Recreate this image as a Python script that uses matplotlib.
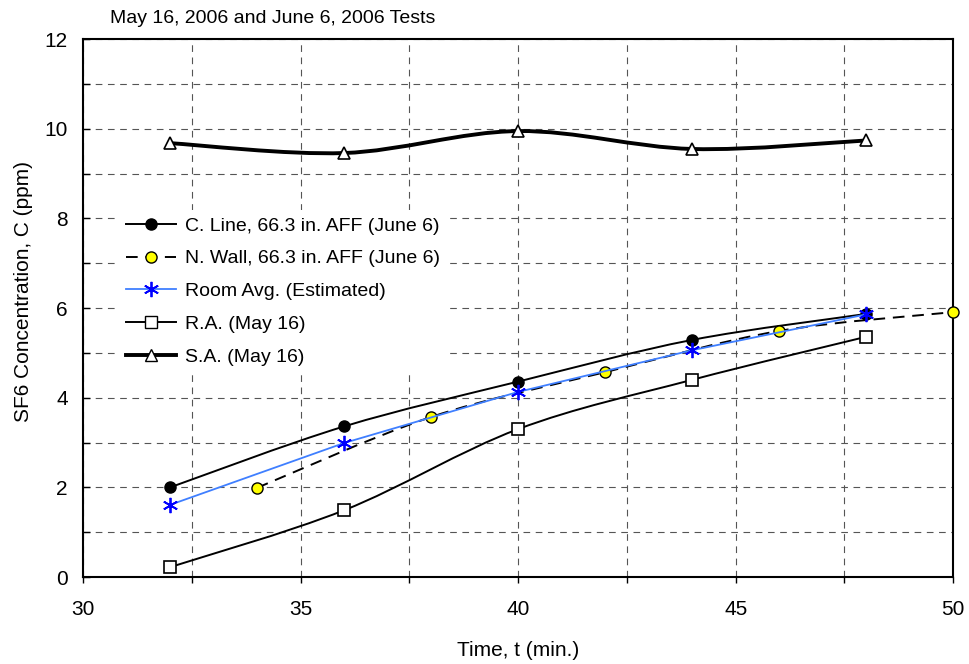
import matplotlib

matplotlib.use("Agg")
import matplotlib.pyplot as plt
from matplotlib.path import Path
from matplotlib.patches import PathPatch

plt.rcParams["font.family"] = ["Liberation Sans", "DejaVu Sans"]

# values
t_cline = [32, 36, 40, 44, 48]
c_cline = [2.0, 3.36, 4.36, 5.29, 5.87]

t_nwall = [34, 38, 42, 46, 50]
c_nwall = [1.99, 3.57, 4.57, 5.49, 5.91]

t_avg = [32, 36, 40, 44, 48]
c_avg = [1.61, 2.99, 4.13, 5.06, 5.86]

t_ra = [32, 36, 40, 44, 48]
c_ra = [0.22, 1.49, 3.30, 4.40, 5.36]

t_sa = [32, 36, 40, 44, 48]
c_sa = [9.68, 9.46, 9.95, 9.55, 9.74]


def smooth_path(xs, ys):
    # Excel-style smoothed line as cubic bezier segments
    pts = list(zip(xs, ys))
    n = len(pts)
    verts = [pts[0]]
    codes = [Path.MOVETO]
    for i in range(n - 1):
        p0 = pts[max(i - 1, 0)]
        p1 = pts[i]
        p2 = pts[i + 1]
        p3 = pts[min(i + 2, n - 1)]
        c1 = (p1[0] + (p2[0] - p0[0]) / 6, p1[1] + (p2[1] - p0[1]) / 6)
        c2 = (p2[0] - (p3[0] - p1[0]) / 6, p2[1] - (p3[1] - p1[1]) / 6)
        verts += [c1, c2, p2]
        codes += [Path.CURVE4] * 3
    return Path(verts, codes)


fig = plt.figure(figsize=(9.69, 6.64), dpi=100)
ax = fig.add_axes([0.0857, 0.131, 0.898, 0.810])

ax.set_xlim(30, 50)
ax.set_ylim(0, 12)
ax.set_xticks([30, 35, 40, 45, 50])
ax.set_xticks([32.5, 37.5, 42.5, 47.5], minor=True)
ax.set_yticks([0, 2, 4, 6, 8, 10, 12])
ax.set_yticks([1, 3, 5, 7, 9, 11], minor=True)
ax.tick_params(axis="x", which="both", direction="out", length=4.5, width=1, pad=12, labelsize=15)
ax.tick_params(axis="y", which="both", direction="in", length=5, width=1, pad=11, labelsize=15)
ax.grid(which="both", color="#555555", linestyle=(0, (6, 5)), linewidth=0.8)
ax.set_axisbelow(True)
for s in ax.spines.values():
    s.set_linewidth(1.5)

# smoothed curves
for xs, ys, lw, ls in [(t_cline, c_cline, 1.4, "-"), (t_nwall, c_nwall, 1.4, (0, (6, 4))),
                        (t_ra, c_ra, 1.4, "-"), (t_sa, c_sa, 2.8, "-")]:
    ax.add_patch(PathPatch(smooth_path(xs, ys), fill=False, edgecolor="black",
                           linewidth=lw, linestyle=ls, zorder=3))

ax.plot(t_cline, c_cline, ls="none", marker="o", ms=8, mfc="black", mec="black", zorder=4)
ax.plot(t_nwall, c_nwall, ls="none", marker="o", ms=8, mfc="#FFFF00", mec="black",
        mew=1, zorder=4, clip_on=False)
ax.plot(t_avg, c_avg, color="#3F7FFF", lw=1.3, zorder=4)
ax.plot(t_avg, c_avg, ls="none", marker=(6, 2, 0), ms=11, mec="#0000FF", mew=1.3, zorder=5)
ax.plot(t_ra, c_ra, ls="none", marker="s", ms=8, mfc="white", mec="black", mew=1.2, zorder=4)
ax.plot(t_sa, c_sa, ls="none", marker="^", ms=9, mfc="white", mec="black", mew=1.2, zorder=4)

# legend proxies
h1, = ax.plot([], [], color="black", lw=1.4, marker="o", ms=8, mfc="black")
h2, = ax.plot([], [], color="black", lw=1.4, ls=(0, (6, 4)), marker="o", ms=8, mfc="#FFFF00", mec="black")
h3, = ax.plot([], [], color="#3F7FFF", lw=1.3, marker=(6, 2, 0), ms=11, mec="#0000FF", mew=1.3)
h4, = ax.plot([], [], color="black", lw=1.4, marker="s", ms=8, mfc="white", mec="black")
h5, = ax.plot([], [], color="black", lw=2.8, marker="^", ms=9, mfc="white", mec="black")
leg = ax.legend([h1, h2, h3, h4, h5],
                ["C. Line, 66.3 in. AFF (June 6)", "N. Wall, 66.3 in. AFF (June 6)",
                 "Room Avg. (Estimated)", "R.A. (May 16)", "S.A. (May 16)"],
                loc="upper left", bbox_to_anchor=(0.03, 0.70), frameon=True, fancybox=False,
                edgecolor="none", facecolor="white", framealpha=1, fontsize=14,
                handlelength=2.6, handletextpad=0.45, labelspacing=0.78, borderpad=0.35)
leg.set_zorder(6)

ax.set_xlabel("Time, t (min.)", fontsize=15)
ax.xaxis.set_label_coords(0.5, -0.119)
ax.set_ylabel("SF6 Concentration, C (ppm)", fontsize=15)
ax.yaxis.set_label_coords(-0.0575, 0.531)
fig.text(0.1135, 1 - 23 / 664, "May 16, 2006 and June 6, 2006 Tests", fontsize=14,
         va="baseline", ha="left")

fig.savefig("out.png", dpi=100)
